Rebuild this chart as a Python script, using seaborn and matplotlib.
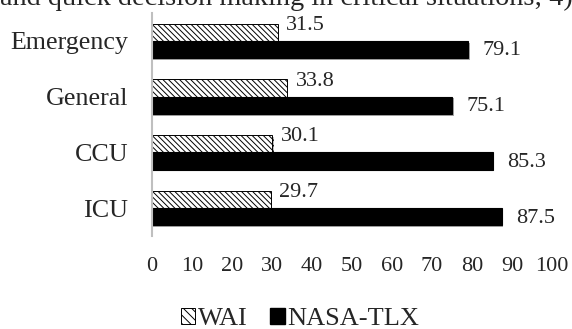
import pandas as pd
import seaborn as sns
import matplotlib.pyplot as plt
from matplotlib.patches import Patch
import matplotlib.patheffects as pe

units = ["Emergency", "General", "CCU", "ICU"]
wai = [31.5, 33.8, 30.1, 29.7]
nasa_tlx = [79.1, 75.1, 85.3, 87.5]
series = ["WAI", "NASA-TLX"]
x_ticks = [0, 10, 20, 30, 40, 50, 60, 70, 80, 90, 100]

df = pd.DataFrame({
    "Unit": units * 2,
    "Score": wai + nasa_tlx,
    "Scale": [series[0]] * len(units) + [series[1]] * len(units),
})

sns.set_style("white")
plt.rcParams['font.family'] = ['Liberation Serif', 'DejaVu Serif']
plt.rcParams['hatch.linewidth'] = 0.7
plt.rcParams['hatch.color'] = '#333333'

fig = plt.figure(figsize=(5.72, 3.29), dpi=100)
ax = fig.add_axes([152 / 572, 1 - 236 / 329, (552 - 152) / 572, 223 / 329])

sns.barplot(data=df, x="Score", y="Unit", hue="Scale", order=units, hue_order=series,
            orient="h", width=0.62, palette=["white", "black"], edgecolor="black",
            linewidth=0.8, saturation=1, ax=ax, legend=False)

shadow = [pe.SimplePatchShadow(offset=(0.8, -1.2), alpha=0.35), pe.Normal()]
for cont in ax.containers:
    for patch in cont:
        patch.set_path_effects(shadow)

# hatch the WAI bars
for patch in ax.containers[0]:
    patch.set_hatch("\\\\\\\\\\\\")
    patch.set_edgecolor("black")
    patch.set_linewidth(0.7)

for patch, val in zip(ax.containers[0], wai):
    ax.annotate(f"{val:.1f}", (patch.get_width(), patch.get_y() + patch.get_height() / 2),
                xytext=(6, 5), textcoords="offset points", ha="left", va="center", fontsize=16)
for patch, val in zip(ax.containers[1], nasa_tlx):
    ax.annotate(f"{val:.1f}", (patch.get_width(), patch.get_y() + patch.get_height() / 2),
                xytext=(10, -1), textcoords="offset points", ha="left", va="center", fontsize=16)

ax.set_xlim(0, 100)
ax.set_ylim(3.5, -0.5)
ax.set_xticks(x_ticks)
ax.set_xticklabels([str(t) for t in x_ticks], fontsize=16)
ax.tick_params(axis="y", labelsize=18.7, length=0, pad=17)
ax.tick_params(axis="x", length=0, pad=15)
ax.set_xlabel("")
ax.set_ylabel("")
for side in ["top", "right", "bottom"]:
    ax.spines[side].set_visible(False)
ax.spines["left"].set_color("#bfbfbf")
ax.spines["left"].set_linewidth(1.5)

handles = [Patch(facecolor="white", edgecolor="black", hatch="\\\\\\\\", linewidth=0.7),
           Patch(facecolor="black", edgecolor="black")]
fig.legend(handles, series, loc="center", bbox_to_anchor=(300 / 572, 1 - 319 / 329),
           ncol=2, frameon=False, fontsize=19, handlelength=0.55, handleheight=0.55,
           handletextpad=0.1, columnspacing=0.85, borderpad=0)

# clipped line of body text from the source page
fig.text(0.0, 1 - 5 / 329, "and quick decision making in critical situations; 4)",
         fontsize=20.3, ha="left", va="baseline")

fig.savefig("out.png", dpi=100)
